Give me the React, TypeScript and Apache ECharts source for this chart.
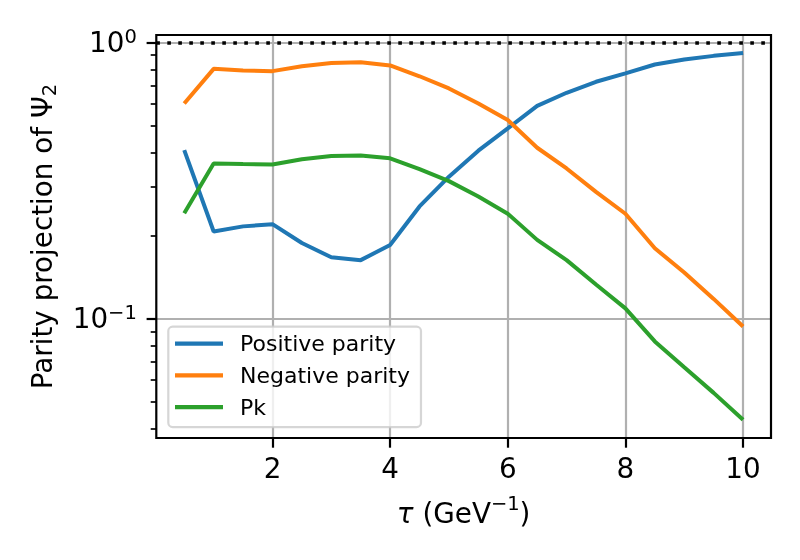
import React, { useEffect, useRef } from "react";
import * as echarts from "echarts";

const tau = [0.5, 1, 1.5, 2, 2.5, 3, 3.5, 4, 4.5, 5, 5.5, 6, 6.5, 7, 7.5, 8, 8.5, 9, 9.5, 10];
const positiveParity = [0.408, 0.207, 0.216, 0.22, 0.188, 0.167, 0.163, 0.185, 0.255, 0.327, 0.406, 0.489, 0.59, 0.658, 0.721, 0.773, 0.833, 0.868, 0.895, 0.917];
const negativeParity = [0.602, 0.803, 0.792, 0.788, 0.821, 0.844, 0.849, 0.826, 0.755, 0.682, 0.602, 0.524, 0.416, 0.35, 0.288, 0.24, 0.18, 0.147, 0.118, 0.0938];
const pk = [0.241, 0.365, 0.363, 0.362, 0.378, 0.388, 0.39, 0.381, 0.348, 0.315, 0.277, 0.24, 0.193, 0.163, 0.133, 0.109, 0.0828, 0.0667, 0.0539, 0.0431];

const seriesNames = ["Positive parity", "Negative parity", "Pk"];
const seriesColors = ["#1f77b4", "#ff7f0e", "#2ca02c"];
const xTicks = [2, 4, 6, 8, 10];
const yMajorTicks = [0.1, 1];
const yMinorTicks = [0.04, 0.05, 0.06, 0.07, 0.08, 0.09, 0.2, 0.3, 0.4, 0.5, 0.6, 0.7, 0.8, 0.9];
const referenceLevel = [1];

const X_MIN = 0.025;
const X_MAX = 10.475;
const Y_MIN = 0.037;
const Y_MAX = 1.065;

const F = "DejaVu Sans";

export default function App() {
  const ref = useRef<HTMLDivElement>(null);
  useEffect(() => {
    if (!ref.current) return;
    const chart = echarts.init(ref.current, null, { renderer: "svg" });
    const allSeries = [positiveParity, negativeParity, pk];
    const supFmt = (v: number) => {
      const e = Math.round(Math.log10(v));
      return `{b|10}{s|${e < 0 ? "\u2212" + -e : e}}`;
    };
    const option: any = {
      animation: false,
      textStyle: { fontFamily: F },
      grid: {
        left: 156.3,
        right: 29,
        top: 35,
        bottom: 122,
        show: true,
        borderColor: "#000",
        borderWidth: 2.2,
        backgroundColor: "transparent",
        z: 3,
      },
      xAxis: {
        type: "value",
        min: X_MIN,
        max: X_MAX,
        axisLine: { show: false },
        axisTick: { show: true, customValues: xTicks, length: 9.7, lineStyle: { color: "#000", width: 2.2 } },
        axisLabel: { customValues: xTicks, fontSize: 27.8, color: "#000", margin: 16, fontFamily: F },
        splitLine: { show: true, lineStyle: { color: "#b0b0b0", width: 2.2 } },
        name: "{i|\u03c4}{n| (GeV}{s|\u22121}{n|)}",
        nameLocation: "middle",
        nameGap: 55,
        nameTextStyle: {
          color: "#000",
          rich: {
            i: { fontSize: 27.8, lineHeight: 40, fontStyle: "italic", fontFamily: F, color: "#000" },
            n: { fontSize: 27.8, lineHeight: 40, fontFamily: F, color: "#000" },
            s: { fontSize: 19.5, lineHeight: 19.5, verticalAlign: "top", fontFamily: F, color: "#000" },
          },
        },
      },
      yAxis: [
        {
          type: "log",
          logBase: 10,
          min: Y_MIN,
          max: Y_MAX,
          axisLine: { show: false },
          axisTick: { show: true, customValues: yMajorTicks, length: 9.7, lineStyle: { color: "#000", width: 2.2 } },
          axisLabel: {
            customValues: yMajorTicks,
            margin: 19.5,
            formatter: supFmt,
            rich: {
              b: { fontSize: 27.8, lineHeight: 32, fontFamily: F, color: "#000" },
              s: { fontSize: 19.5, lineHeight: 19.5, verticalAlign: "top", fontFamily: F, color: "#000" },
            },
          },
          splitLine: { show: true, lineStyle: { color: "#b0b0b0", width: 2.2 } },
          minorTick: { show: false },
          name: "{n|Parity projection of \u03a8}{s|2}",
          nameLocation: "middle",
          nameGap: 97,
          nameTextStyle: {
            color: "#000",
            rich: {
              n: { fontSize: 27.8, lineHeight: 34, fontFamily: F, color: "#000" },
              s: { fontSize: 19.5, lineHeight: 19.5, verticalAlign: "bottom", fontFamily: F, color: "#000" },
            },
          },
        },
        {
          type: "log",
          logBase: 10,
          min: Y_MIN,
          max: Y_MAX,
          position: "left",
          axisLine: { show: false },
          axisTick: { show: true, customValues: yMinorTicks, length: 5.6, lineStyle: { color: "#000", width: 1.67 } },
          axisLabel: { show: false },
          splitLine: { show: false },
        },
      ],
      legend: {
        show: true,
        orient: "vertical",
        left: 168.3,
        top: 326.7,
        data: seriesNames,
        icon: "rect",
        itemWidth: 48,
        itemHeight: 4.2,
        itemGap: 9.7,
        padding: [6, 11, 9, 6.7],
        backgroundColor: "rgba(255,255,255,0.8)",
        borderColor: "rgba(204,204,204,0.8)",
        borderWidth: 2.2,
        borderRadius: 4.4,
        textStyle: { fontSize: 22, lineHeight: 22, color: "#000", fontFamily: F, padding: [0, 0, 0, 12] },
        selectedMode: false,
      },
      series: allSeries.map((vals, k) => ({
        name: seriesNames[k],
        type: "line",
        xAxisIndex: 0,
        yAxisIndex: 0,
        data: tau.map((t, i) => [t, vals[i]]),
        showSymbol: false,
        symbol: "none",
        color: seriesColors[k],
        lineStyle: { color: seriesColors[k], width: 4 },
        clip: true,
        z: 4,
        ...(k === 0
          ? {
              markLine: {
                silent: true,
                symbol: ["none", "none"],
                label: { show: false },
                lineStyle: { color: "#000", type: [3.6, 7.4], width: 3.6, cap: "butt" },
                data: referenceLevel.map((v) => ({ yAxis: v })),
              },
            }
          : {}),
      })),
    };
    chart.setOption(option);
    return () => chart.dispose();
  }, []);
  return <div ref={ref} style={{ position: "fixed", left: 0, top: 0, width: 800, height: 560 }} />;
}
